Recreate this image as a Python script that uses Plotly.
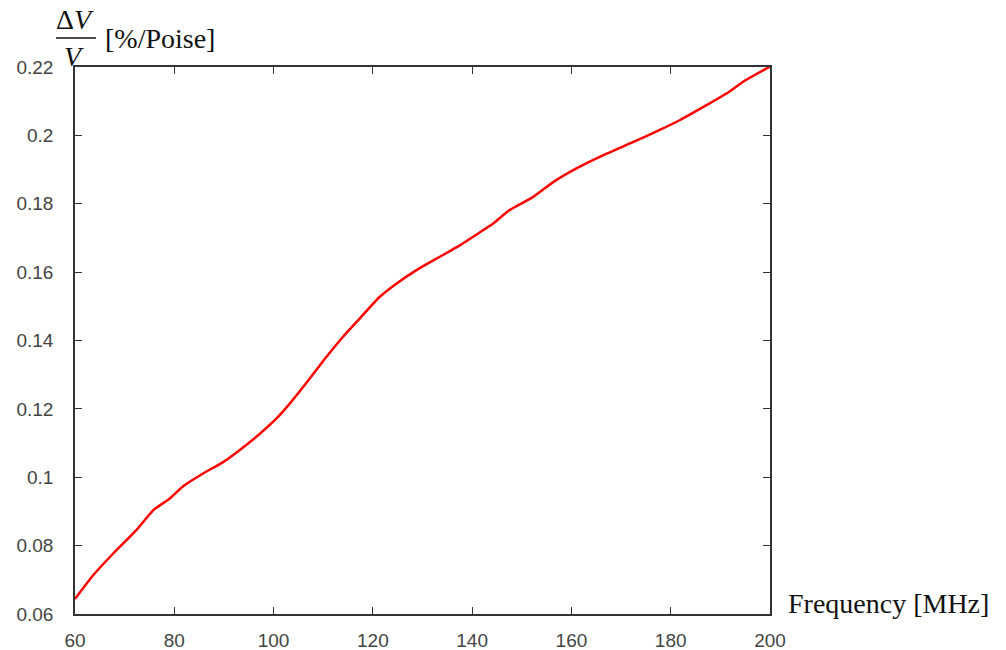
import plotly.graph_objects as go

freq_mhz = [60.0, 63.7, 67.7, 72.4, 75.8, 79.1, 81.8, 85.8, 89.9, 93.2, 97.3, 100.6,
            103.0, 107.3, 110.7, 114.0, 117.4, 121.4, 124.8, 128.8, 133.5, 137.6,
            141.2, 144.3, 147.6, 152.3, 156.4, 161.1, 165.8, 172.5, 177.8, 181.9,
            187.3, 191.3, 194.6, 200.0]
dv_over_v = [0.0644, 0.0714, 0.0777, 0.0846, 0.0904, 0.0938, 0.0974, 0.1011, 0.1045,
             0.1080, 0.1128, 0.1172, 0.1211, 0.1289, 0.1353, 0.1411, 0.1465, 0.1528,
             0.1567, 0.1606, 0.1645, 0.1679, 0.1713, 0.1743, 0.1782, 0.1820, 0.1864,
             0.1904, 0.1938, 0.1981, 0.2016, 0.2045, 0.2089, 0.2123, 0.2157, 0.2201]

x_ticks = [60, 80, 100, 120, 140, 160, 180, 200]
y_ticks = [0.06, 0.08, 0.1, 0.12, 0.14, 0.16, 0.18, 0.2, 0.22]
y_tick_labels = ["0.06", "0.08", "0.1", "0.12", "0.14", "0.16", "0.18", "0.2", "0.22"]

fig = go.Figure()
fig.add_trace(go.Scatter(x=freq_mhz, y=dv_over_v, mode="lines",
                         line=dict(color="#ff0000", width=2.5, shape="spline",
                                   smoothing=0.6),
                         showlegend=False, cliponaxis=False))

axis_common = dict(showgrid=False, zeroline=False, showline=True, linecolor="#333333",
                   linewidth=1.5, mirror="ticks", ticks="inside", ticklen=7,
                   tickwidth=1.2, tickcolor="#333333", automargin=False,
                   tickfont=dict(family="Liberation Sans, Arial, sans-serif", size=19,
                                 color="#444444"))

fig.update_xaxes(range=[60, 200], tickvals=x_ticks, ticklabelstandoff=8, **axis_common)
fig.update_yaxes(range=[0.06, 0.22], tickvals=y_ticks, ticktext=y_tick_labels,
                 ticklabelstandoff=16, **axis_common)

serif = "Liberation Serif, DejaVu Serif, serif"

W, H = 1006, 650
L, R, T, B = 75, 236, 67, 36
pw, ph = W - L - R, H - T - B


def px(xp):
    return (xp - L) / pw


def py(yp):
    return (H - B - yp) / ph


anns = [
    dict(text="Δ<i>V</i>", x=px(75), y=py(19), xanchor="center", yanchor="middle",
         font=dict(family=serif, size=28, color="#111111")),
    dict(text="<i>V</i>", x=px(74), y=py(56), xanchor="center", yanchor="middle",
         font=dict(family=serif, size=28, color="#111111")),
    dict(text="[%/Poise]", x=px(103), y=py(38), xanchor="left", yanchor="middle",
         font=dict(family=serif, size=28, color="#111111")),
    dict(text="Frequency [MHz]", x=px(786), y=py(603), xanchor="left", yanchor="middle",
         font=dict(family=serif, size=28, color="#111111")),
]
for a in anns:
    fig.add_annotation(xref="paper", yref="paper", showarrow=False, **a)

fig.add_shape(type="line", xref="paper", yref="paper", x0=px(56), x1=px(96),
              y0=py(38), y1=py(38), line=dict(color="#111111", width=1.3))

fig.update_layout(width=W, height=H, margin=dict(l=L, r=R, t=T, b=B),
                  paper_bgcolor="white", plot_bgcolor="white")

fig.write_html("out.html")
